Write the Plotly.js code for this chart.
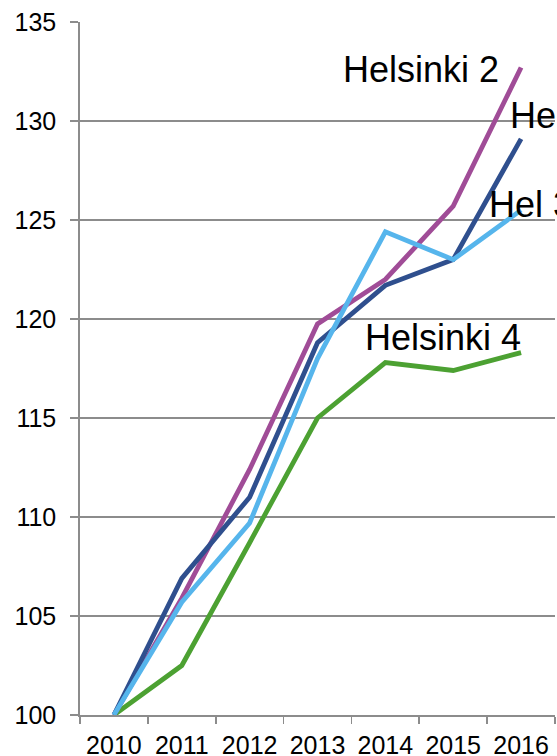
<!DOCTYPE html>
<html>
<head>
<meta charset="utf-8">
<script src="https://cdn.plot.ly/plotly-3.0.1.min.js"></script>
<style>
html,body{margin:0;padding:0;background:#fff;}
#chart{width:557px;height:756px;}
</style>
</head>
<body>
<div id="chart"></div>
<script>
const years = ["2010","2011","2012","2013","2014","2015","2016"];
const helsinki1 = [100, 106.9, 111.0, 118.8, 121.7, 123.0, 129.1];
const helsinki2 = [100, 105.9, 112.4, 119.75, 122.0, 125.7, 132.7];
const helsinki3 = [100, 105.7, 109.7, 118.0, 124.4, 123.0, 125.5];
const helsinki4 = [100, 102.5, 108.7, 115.0, 117.8, 117.4, 118.3];
const seriesNames = ["Helsinki 1", "Helsinki 2", "Hel 3", "Helsinki 4"];
const yTicks = [100, 105, 110, 115, 120, 125, 130, 135];

const colors = ["#2F4F8E", "#A04C97", "#56B5EC", "#4CA132"];
const seriesData = [helsinki1, helsinki2, helsinki3, helsinki4];

const traces = seriesData.map((vals, i) => ({
  x: years,
  y: vals,
  type: "scatter",
  mode: "lines",
  name: seriesNames[i],
  line: {color: colors[i], width: 4.8},
  hoverinfo: "none"
}));
const ordered = [traces[3], traces[1], traces[0], traces[2]];

const labelFont = {family: "Liberation Sans, Arial, sans-serif", size: 36, color: "#000"};
const annotations = [
  {text: "Helsinki 2", x: 3.34, y: 132.6},
  {text: seriesNames[0], x: 5.81, y: 130.3},
  {text: seriesNames[2], x: 5.50, y: 125.8},
  {text: "Helsinki 4", x: 3.67, y: 119.05}
].map(a => ({
  text: a.text, x: a.x, y: a.y, xref: "x", yref: "y",
  xanchor: "left", yanchor: "middle", showarrow: false,
  font: labelFont
}));

const tickFont = {family: "Liberation Sans, Arial, sans-serif", size: 25, color: "#000"};
const layout = {
  width: 557, height: 756,
  margin: {l: 80, r: 2, t: 22, b: 41, pad: 0},
  paper_bgcolor: "#fff", plot_bgcolor: "#fff",
  showlegend: false,
  xaxis: {
    type: "category",
    range: [-0.5, 6.5],
    tickson: "boundaries",
    ticks: "outside", ticklen: 7, tickwidth: 1.75, tickcolor: "#8c8c8c",
    ticklabelstandoff: 7,
    showgrid: false,
    showline: true, linecolor: "#8c8c8c", linewidth: 1.75,
    tickfont: tickFont,
    fixedrange: true
  },
  yaxis: {
    range: [100, 135],
    tickmode: "array", tickvals: yTicks, ticktext: yTicks.map(String),
    ticks: "outside", ticklen: 8, tickwidth: 1.75, tickcolor: "#8c8c8c",
    ticklabelstandoff: 9,
    showgrid: true, gridcolor: "#8c8c8c", gridwidth: 1.75,
    showline: true, linecolor: "#8c8c8c", linewidth: 1.75,
    zeroline: false,
    tickfont: tickFont,
    fixedrange: true
  },
  annotations: annotations
};

Plotly.newPlot("chart", ordered, layout, {displayModeBar: false, staticPlot: true});
</script>
</body>
</html>
